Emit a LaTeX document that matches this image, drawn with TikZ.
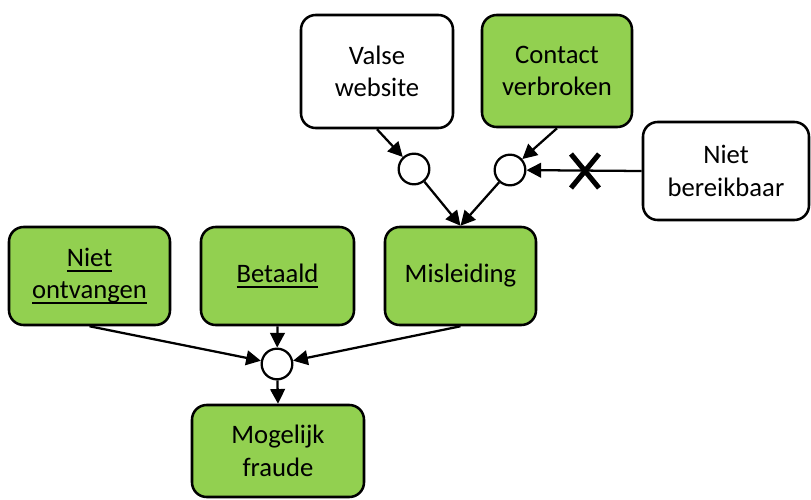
\documentclass[tikz,border=0pt]{standalone}
\usepackage{fontspec}
\setmainfont{Carlito}
\usetikzlibrary{arrows.meta}
\definecolor{boxgreen}{HTML}{92D050}
\newcommand\myul[1]{\setbox0\hbox{#1}\rlap{\rule[-4pt]{\wd0}{1.4pt}}\box0}
\begin{document}
\begin{tikzpicture}[x=0.75pt,y=-0.75pt,
  box/.style={draw, line width=1.9pt, rounded corners=11pt, align=center,
    inner sep=0pt, font=\fontsize{20}{24.4}\selectfont, fill=white},
  greenbox/.style={box, fill=boxgreen},
  junc/.style={circle, draw, line width=1.7pt, minimum size=23pt, inner sep=0pt, fill=white},
  conn/.style={line width=1.7pt, -{Triangle[length=11pt,width=11pt]}}]
\useasboundingbox (0,0) rectangle (811,500);

\node[box, minimum width=114pt, minimum height=84.75pt] (valse) at (377,71.5) {Valse\\website};
\node[greenbox, minimum width=112.5pt, minimum height=84pt] (contact) at (557,71) {Contact\\verbroken};
\node[box, minimum width=124.5pt, minimum height=73.5pt] (nb) at (726,171) {Niet\\bereikbaar};
\node[greenbox, minimum width=120.75pt, minimum height=73.5pt] (no) at (89.5,276) {\myul{Niet}\\\myul{ontvangen}};
\node[greenbox, minimum width=114.75pt, minimum height=73.5pt] (bet) at (277.5,276) {\myul{Betaald}};
\node[greenbox, minimum width=113.25pt, minimum height=73.5pt] (mis) at (460.5,276) {Misleiding};
\node[greenbox, minimum width=129pt, minimum height=69pt] (mf) at (278,451) {Mogelijk\\fraude};

\node[junc] (c1) at (414,169) {};
\node[junc] (c2) at (510,170) {};
\node[junc] (c3) at (277,364) {};

\draw[conn] (valse.south) -- (c1);
\draw[conn] (contact.south) -- (c2);
\draw[conn] (nb.west) -- (c2);
\draw[conn] (c1) -- (mis.north);
\draw[conn] (c2) -- (mis.north);
\draw[conn] (no.south) -- (c3);
\draw[conn] (bet.south) -- (c3);
\draw[conn] (mis.south) -- (c3);
\draw[conn] (c3) -- (mf.north);

\coordinate (xm) at (585,171);
\draw[line width=3.8pt] ([shift={(-14,-17)}]xm) -- ([shift={(14,17)}]xm);
\draw[line width=3.8pt] ([shift={(14,-17)}]xm) -- ([shift={(-14,17)}]xm);
\end{tikzpicture}
\end{document}
